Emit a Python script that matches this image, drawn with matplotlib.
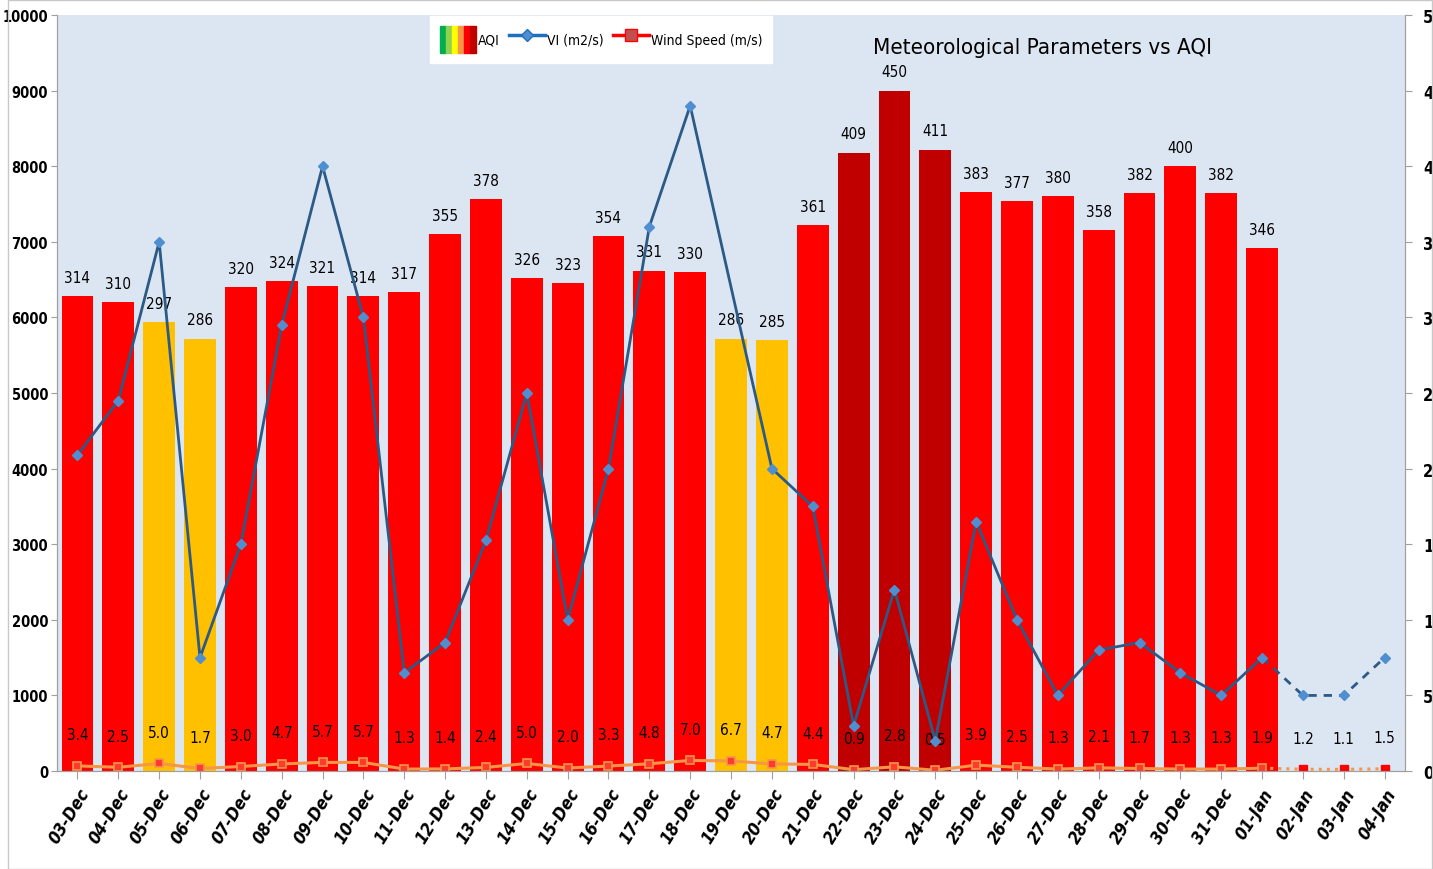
import numpy as np
import matplotlib
matplotlib.use('Agg')
import matplotlib.pyplot as plt
from matplotlib.patches import Patch, Rectangle
from matplotlib.lines import Line2D
from matplotlib.legend_handler import HandlerTuple

plt.rcParams['font.family'] = ['DejaVu Sans']
plt.rcParams['font.stretch'] = 'condensed'

dates = ['03-Dec', '04-Dec', '05-Dec', '06-Dec', '07-Dec', '08-Dec', '09-Dec', '10-Dec',
         '11-Dec', '12-Dec', '13-Dec', '14-Dec', '15-Dec', '16-Dec', '17-Dec', '18-Dec',
         '19-Dec', '20-Dec', '21-Dec', '22-Dec', '23-Dec', '24-Dec', '25-Dec', '26-Dec',
         '27-Dec', '28-Dec', '29-Dec', '30-Dec', '31-Dec', '01-Jan', '02-Jan', '03-Jan', '04-Jan']
aqi = [314, 310, 297, 286, 320, 324, 321, 314, 317, 355, 378, 326, 323, 354, 331, 330,
       286, 285, 361, 409, 450, 411, 383, 377, 380, 358, 382, 400, 382, 346]
vi = [4180, 4900, 7000, 1500, 3000, 5900, 8000, 6000, 1300, 1700, 3050, 5000, 2000, 4000,
      7200, 8800, None, 4000, 3500, 600, 2400, 400, 3300, 2000, 1000, 1600, 1700, 1300,
      1000, 1500, 1000, 1000, 1500]
wind = [3.4, 2.5, 5.0, 1.7, 3.0, 4.7, 5.7, 5.7, 1.3, 1.4, 2.4, 5.0, 2.0, 3.3, 4.8, 7.0,
        6.7, 4.7, 4.4, 0.9, 2.8, 0.5, 3.9, 2.5, 1.3, 2.1, 1.7, 1.3, 1.3, 1.9, 1.2, 1.1, 1.5]
n_actual = 30  # 03-Dec .. 01-Jan observed, after that forecast


def aqi_color(v):
    if v > 400:
        return '#C00000'
    if v > 300:
        return '#FF0000'
    return '#FFC000'


fig = plt.figure(figsize=(14.33, 8.7), dpi=100)
ax = fig.add_axes([0.0398, 0.1126, 0.9407, 0.869])
ax2 = ax.twinx()
ax.set_zorder(ax2.get_zorder() + 1)
ax.patch.set_visible(False)
ax2.patch.set_visible(True)
ax2.set_facecolor('#DCE6F2')

x = np.arange(len(dates))

# AQI bars
xa = x[:len(aqi)]
ax2.bar(xa, aqi, width=0.78, color=[aqi_color(v) for v in aqi], zorder=2)
for i, v in zip(xa, aqi):
    ax2.annotate(str(v), (i, v), xytext=(0, 8), textcoords='offset points',
                 ha='center', va='bottom', fontsize=11)

# wind speed
ax2.plot(x[:n_actual], wind[:n_actual], color='#F79646', lw=2.2, zorder=3)
ax2.plot(x[n_actual - 1:], wind[n_actual - 1:], color='#F79646', lw=2.2, ls=':', zorder=3)
ax2.plot(x[:n_actual], wind[:n_actual], ls='none', marker='s', ms=6,
         mfc='#FF3B2F', mec='#F79646', mew=1.2, zorder=4)
ax2.plot(x[n_actual:], wind[n_actual:], ls='none', marker='s', ms=6,
         mfc='#FF0000', mec='#FF0000', zorder=4)
for i, v in zip(x, wind):
    ax2.annotate(f'{v:.1f}', (i, v), xytext=(0, 17), textcoords='offset points',
                 ha='center', va='bottom', fontsize=11)

# VI line
vx = [i for i, v in zip(x, vi) if v is not None]
vy = [v for v in vi if v is not None]
k = vx.index(n_actual - 1)
ax.plot(vx[:k + 1], vy[:k + 1], color='#2C5A86', lw=2, zorder=5)
ax.plot(vx[k:], vy[k:], color='#2C5A86', lw=2, ls=(0, (3, 2.5)), zorder=5)
ax.plot(vx, vy, ls='none', marker='D', ms=5, color='#4F8FD0', zorder=6)

ax.set_xlim(-0.5, len(dates) - 0.5)
ax.set_ylim(0, 10000)
ax2.set_ylim(0, 500)
ax.set_yticks(np.arange(0, 10001, 1000))
ax2.set_yticks(np.arange(0, 501, 50))
ax.set_xticks(x)
ax.set_xticklabels(dates, rotation=58, ha='right', rotation_mode='anchor',
                   fontstyle='italic', fontweight='bold', fontsize=12.5)
ax.tick_params(axis='x', length=6, color='#A0A0A0', pad=4)
ax.tick_params(axis='y', direction='out', length=4, color='#A0A0A0', labelsize=10.5, pad=2.5)
ax2.tick_params(axis='y', direction='out', length=5, color='#A0A0A0', labelsize=12, pad=8)
for lab in ax.get_yticklabels() + ax2.get_yticklabels():
    lab.set_fontweight('bold')
for a in (ax, ax2):
    a.spines['top'].set_visible(False)
    for s in ('left', 'right', 'bottom'):
        a.spines[s].set_color('#A0A0A0')

# legend
aqi_cols = ['#00B050', '#92D050', '#FFFF00', '#F79646', '#FF0000', '#C00000']
h_aqi = tuple(Patch(facecolor=c, edgecolor=c) for c in aqi_cols)
h_vi = Line2D([], [], color='#1F6FC0', lw=2.5, marker='D', ms=6, mfc='#4F8FD0')
h_ws = Line2D([], [], color='#FF0000', lw=2.5, marker='s', ms=8, mfc='#C05050', mec='#FF0000')
leg = ax.legend([h_aqi, h_vi, h_ws], ['AQI', 'VI (m2/s)', 'Wind Speed (m/s)'],
                handler_map={tuple: HandlerTuple(ndivide=None, pad=0)},
                loc='upper left', bbox_to_anchor=(0.276, 1.0), ncol=3,
                frameon=True, fancybox=False, framealpha=1, edgecolor='white',
                fontsize=10, handlelength=2.6, handleheight=2.6, columnspacing=0.7,
                handletextpad=0.1, borderpad=0.7, borderaxespad=0.1)

ax.text(0.731, 0.958, 'Meteorological Parameters vs AQI', transform=ax.transAxes,
        ha='center', va='center', fontsize=16, zorder=10)

fig.patches.append(Rectangle((8 / 1433, 0), 1 - 9 / 1433, 0.999, transform=fig.transFigure,
                             fill=False, edgecolor='#C8C8C8', lw=1))

fig.savefig('out.png', dpi=100)
